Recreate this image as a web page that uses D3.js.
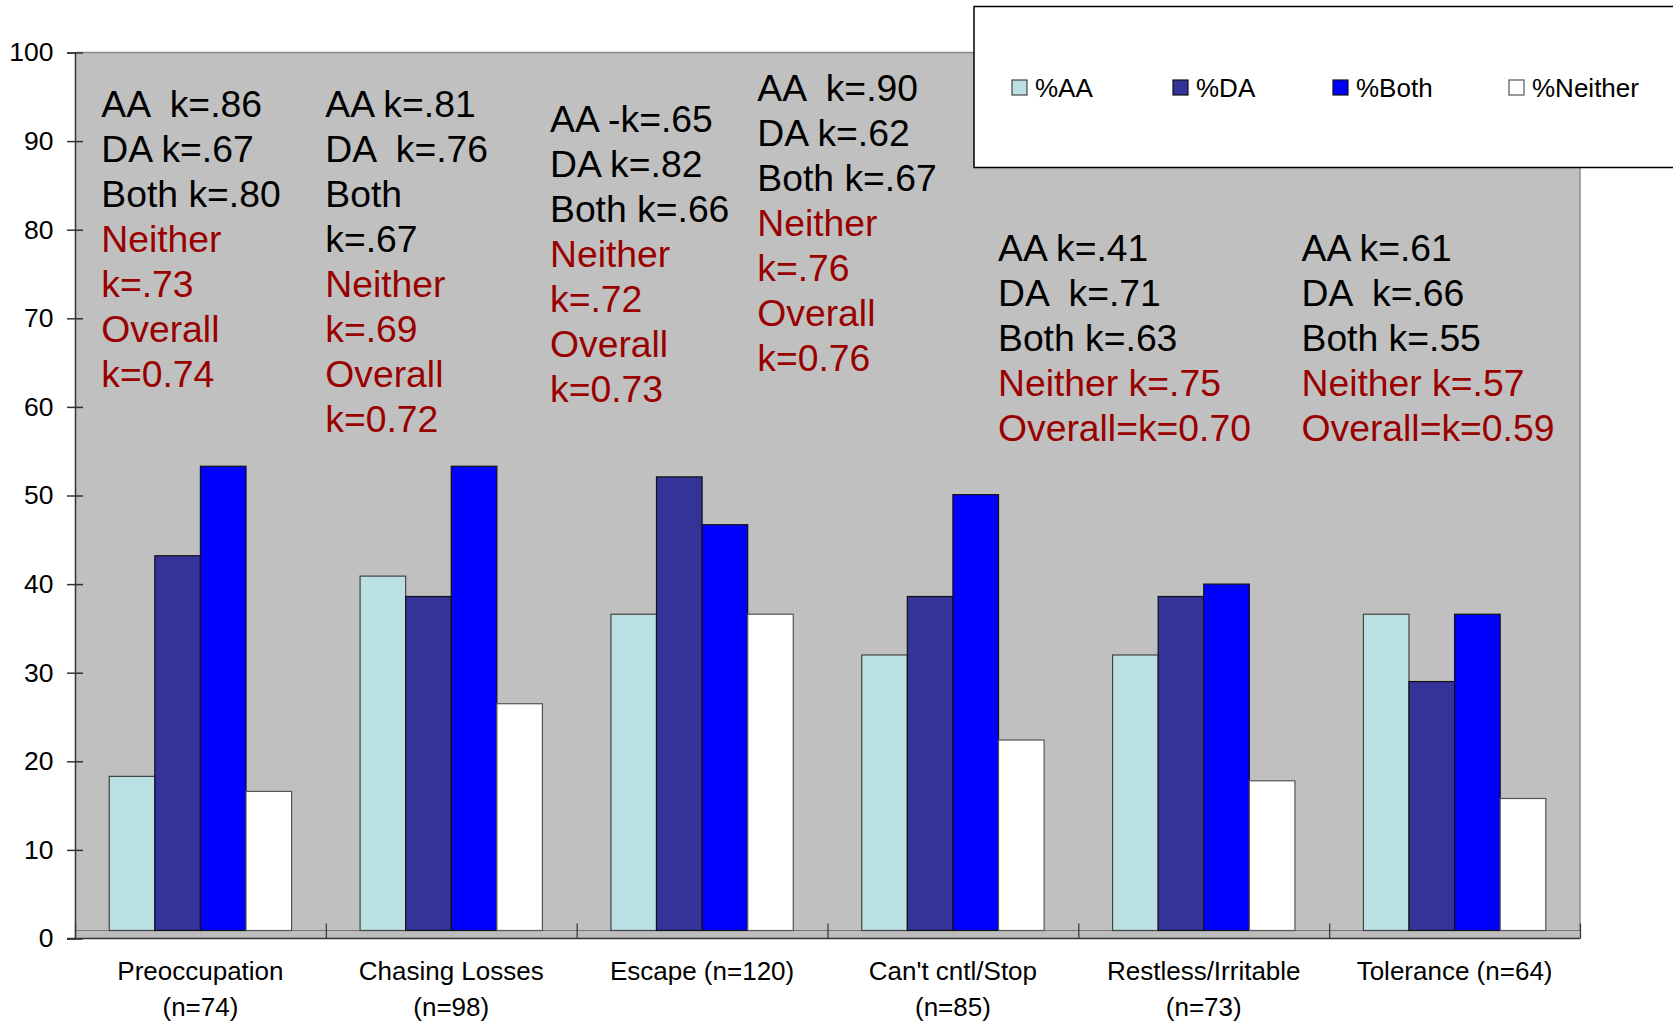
<!DOCTYPE html>
<html>
<head>
<meta charset="utf-8">
<script src="https://cdn.jsdelivr.net/npm/d3@7"></script>
<style>
  html, body { margin: 0; padding: 0; background: #fff; }
  svg { display: block; font-family: "Liberation Sans", Arial, sans-serif; }
  text { white-space: pre; }
</style>
</head>
<body>
<svg id="chart" width="1673" height="1024"></svg>
<script>
// ---- data ----
const categories = ["Preoccupation", "Chasing Losses", "Escape", "Can't cntl/Stop", "Restless/Irritable", "Tolerance"];
const categoryLabels = [
  ["Preoccupation", "(n=74)"],
  ["Chasing Losses", "(n=98)"],
  ["Escape (n=120)"],
  ["Can't cntl/Stop", "(n=85)"],
  ["Restless/Irritable", "(n=73)"],
  ["Tolerance (n=64)"]
];
const seriesNames = ["%AA", "%DA", "%Both", "%Neither"];
const pctAA      = [18.3, 40.9, 36.6, 32.0, 32.0, 36.6];
const pctDA      = [43.2, 38.6, 52.1, 38.6, 38.6, 29.0];
const pctBoth    = [53.3, 53.3, 46.7, 50.1, 40.0, 36.6];
const pctNeither = [16.6, 26.5, 36.6, 22.4, 17.8, 15.8];
const yTicks = [0, 10, 20, 30, 40, 50, 60, 70, 80, 90, 100];

// kappa annotation blocks: [text, isRed]
const kappaBlocks = [
  [["AA  k=.86",0],["DA k=.67",0],["Both k=.80",0],["Neither",1],["k=.73",1],["Overall",1],["k=0.74",1]],
  [["AA k=.81",0],["DA  k=.76",0],["Both",0],["k=.67",0],["Neither",1],["k=.69",1],["Overall",1],["k=0.72",1]],
  [["AA -k=.65",0],["DA k=.82",0],["Both k=.66",0],["Neither",1],["k=.72",1],["Overall",1],["k=0.73",1]],
  [["AA  k=.90",0],["DA k=.62",0],["Both k=.67",0],["Neither",1],["k=.76",1],["Overall",1],["k=0.76",1]],
  [["AA k=.41",0],["DA  k=.71",0],["Both k=.63",0],["Neither k=.75",1],["Overall=k=0.70",1]],
  [["AA k=.61",0],["DA  k=.66",0],["Both k=.55",0],["Neither k=.57",1],["Overall=k=0.59",1]]
];

(function () {
// ---- layout ----
const colors = ["#BBE0E3", "#333399", "#0000FF", "#FFFFFF"];
const strokes = ["#444", "#111", "#111", "#555"];
const pLeft = 75, pRight = 1580, pTop = 52.5, y0px = 938.5;
const floorDepth = 8;

const svg = d3.select("#chart");
const series = [pctAA, pctDA, pctBoth, pctNeither];

const x = d3.scaleBand().domain(categories).range([pLeft, pRight]).padding(0);
const xs = d3.scaleBand().domain(seriesNames)
  .range([x.bandwidth() * 0.1365, x.bandwidth() * 0.8635]).padding(0);
const y = d3.scaleLinear().domain([0, 100]).range([y0px, pTop]);

// plot background
svg.append("rect").attr("x", pLeft).attr("y", pTop)
  .attr("width", pRight - pLeft).attr("height", y0px - pTop)
  .attr("fill", "#C0C0C0");
svg.append("path").attr("d", `M${pLeft},${pTop}H${pRight}V${y0px}`)
  .attr("fill", "none").attr("stroke", "#8a8a8a").attr("stroke-width", 1.5);
// floor band
svg.append("rect").attr("x", pLeft).attr("y", y0px - floorDepth)
  .attr("width", pRight - pLeft).attr("height", floorDepth)
  .attr("fill", "#BDBDBD");
svg.append("line").attr("x1", pLeft).attr("x2", pRight)
  .attr("y1", y0px - floorDepth).attr("y2", y0px - floorDepth)
  .attr("stroke", "#7a7a7a").attr("stroke-width", 1);

// bars
const rows = [];
categories.forEach((c, i) => series.forEach((s, j) => rows.push({c, j, v: s[i]})));
svg.append("g").selectAll("rect").data(rows).join("rect")
  .attr("x", d => x(d.c) + xs(seriesNames[d.j]))
  .attr("width", xs.bandwidth())
  .attr("y", d => y(d.v))
  .attr("height", d => (y0px - floorDepth) - y(d.v))
  .attr("fill", d => colors[d.j])
  .attr("stroke", d => strokes[d.j])
  .attr("stroke-width", 1.2);

// y axis
const yAxis = d3.axisLeft(y).tickValues(yTicks).tickSize(8).tickPadding(13.5).tickFormat(d3.format("d"));
const gy = svg.append("g").attr("transform", `translate(${pLeft},0)`).call(yAxis);
gy.select(".domain").attr("stroke", "#333").attr("stroke-width", 1.5);
gy.selectAll(".tick line").attr("x2", -8).attr("x1", 8).attr("stroke", "#333").attr("stroke-width", 1.5);
gy.selectAll(".tick text").attr("font-size", 26.5).attr("fill", "#000")
  .attr("font-family", "Liberation Sans, Arial, sans-serif");

// x axis (boundary ticks)
const xb = d3.scaleLinear().domain([0, categories.length]).range([pLeft, pRight]);
const xAxis = d3.axisBottom(xb).tickValues(d3.range(categories.length + 1)).tickSize(-15).tickFormat("");
const gx = svg.append("g").attr("transform", `translate(0,${y0px})`).call(xAxis);
gx.select(".domain").attr("d", `M${pLeft - 8},0H${pRight}`).attr("stroke", "#333").attr("stroke-width", 1.5);
gx.selectAll(".tick line").attr("stroke", "#333").attr("stroke-width", 1.2);

// category labels
const lab = svg.append("g").selectAll("text").data(categories).join("text")
  .attr("text-anchor", "middle").attr("font-size", 26).attr("fill", "#000");
lab.each(function(c, i) {
  const t = d3.select(this);
  categoryLabels[i].forEach((line, k) => {
    t.append("tspan").attr("x", x(c) + x.bandwidth() / 2).attr("y", 980 + k * 36).text(line);
  });
});

// kappa annotations
const blockPos = [[101.3, 116.7], [325.3, 116.7], [550, 131.7], [757.3, 100.7], [998, 260.5], [1301.5, 260.5]];
kappaBlocks.forEach((blk, i) => {
  const t = svg.append("text").attr("font-size", 37.3).attr("xml:space", "preserve");
  blk.forEach((ln, k) => {
    t.append("tspan").attr("x", blockPos[i][0]).attr("y", blockPos[i][1] + k * 45)
      .attr("fill", ln[1] ? "#990000" : "#000").text(ln[0]);
  });
});

// legend
const lg = svg.append("g");
lg.append("rect").attr("x", 974).attr("y", 6.5).attr("width", 760).attr("height", 161)
  .attr("fill", "#fff").attr("stroke", "#000").attr("stroke-width", 1.5);
const legX = [1012, 1173, 1333, 1509];
seriesNames.forEach((s, j) => {
  lg.append("rect").attr("x", legX[j]).attr("y", 80).attr("width", 15).attr("height", 15)
    .attr("fill", colors[j]).attr("stroke", strokes[j]).attr("stroke-width", 1.2);
  lg.append("text").attr("x", legX[j] + 23).attr("y", 97).attr("font-size", 26).attr("fill", "#000").text(s);
});
})();
</script>
</body>
</html>
